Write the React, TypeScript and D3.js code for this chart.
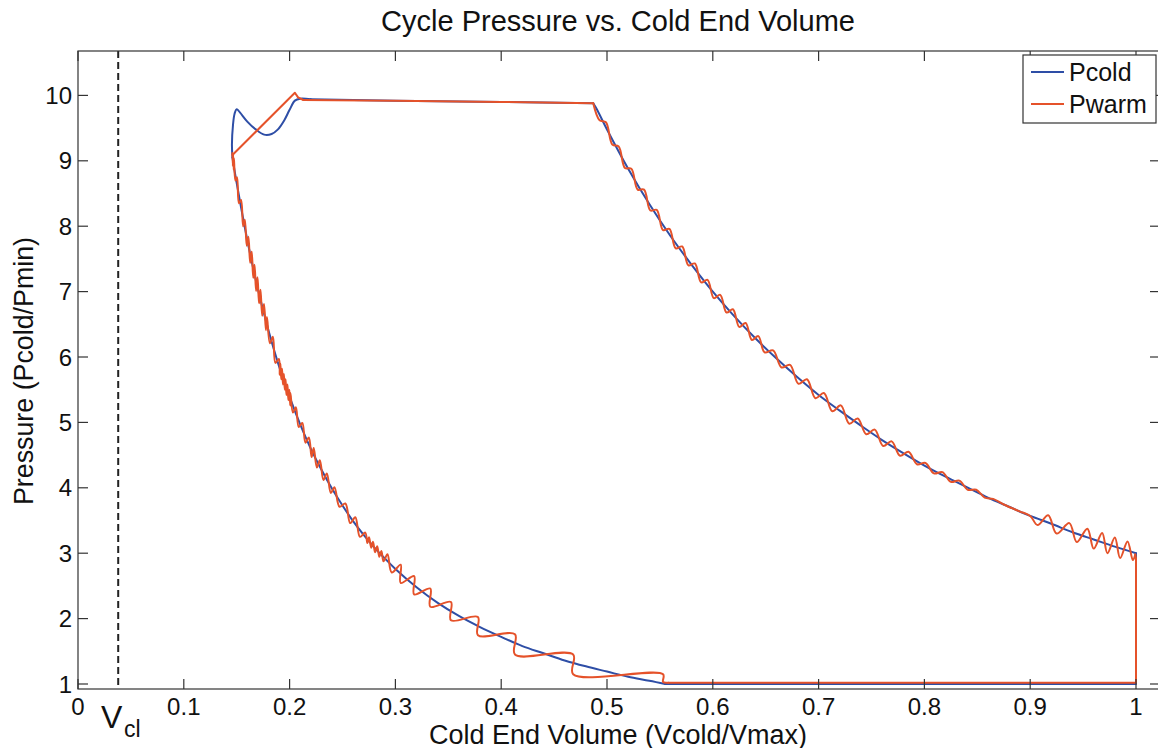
import React from 'react';
import * as d3 from 'd3';

// ---------- data ----------
const xTickValues = [0, 0.1, 0.2, 0.3, 0.4, 0.5, 0.6, 0.7, 0.8, 0.9, 1];
const xTickLabels = ['0', '0.1', '0.2', '0.3', '0.4', '0.5', '0.6', '0.7', '0.8', '0.9', '1'];
const yTickValues = [1, 2, 3, 4, 5, 6, 7, 8, 9, 10];
const yTickLabels = ['1', '2', '3', '4', '5', '6', '7', '8', '9', '10'];
const vClearance = 0.038;
const seriesNames = ['Pcold', 'Pwarm'];

// Pcold (blue)
const coldTop: [number, number][] = [
  [0.146, 9.05], [0.1455, 9.25], [0.1465, 9.55], [0.148, 9.72], [0.15, 9.79], [0.153, 9.74],
  [0.16, 9.6], [0.168, 9.48], [0.176, 9.4], [0.183, 9.41], [0.189, 9.48], [0.195, 9.62],
  [0.2, 9.78], [0.205, 9.92], [0.21, 9.95], [0.22, 9.94],
];
const coldPlateau: [number, number][] = [[0.22, 9.94], [0.3, 9.92], [0.4, 9.9], [0.487, 9.88]];
const coldExpansion: [number, number][] = [
  [0.487, 9.88], [0.49, 9.8], [0.5, 9.48], [0.52, 8.88], [0.54, 8.34], [0.56, 7.85], [0.58, 7.41],
  [0.6, 7.0], [0.62, 6.63], [0.64, 6.29], [0.66, 5.98], [0.68, 5.69], [0.7, 5.42], [0.72, 5.18],
  [0.74, 4.95], [0.76, 4.73], [0.78, 4.53], [0.8, 4.34], [0.82, 4.17], [0.84, 4.01], [0.86, 3.85],
  [0.88, 3.71], [0.9, 3.57], [0.92, 3.45], [0.94, 3.32], [0.96, 3.21], [0.98, 3.1], [1.0, 3.0],
];
const coldDrop: [number, number][] = [[1.0, 3.0], [1.0, 1.0], [0.555, 1.0]];
const coldCompression: [number, number][] = [
  [0.555, 1.0], [0.54, 1.05], [0.52, 1.11], [0.5, 1.19], [0.48, 1.27], [0.46, 1.36], [0.44, 1.47],
  [0.42, 1.58], [0.4, 1.72], [0.38, 1.87], [0.36, 2.04], [0.34, 2.24], [0.32, 2.48], [0.3, 2.76],
  [0.29, 2.92], [0.28, 3.09], [0.27, 3.28], [0.26, 3.49], [0.25, 3.73], [0.24, 3.99], [0.23, 4.28],
  [0.22, 4.6], [0.21, 4.97], [0.2, 5.39], [0.19, 5.86], [0.18, 6.41], [0.17, 7.04], [0.16, 7.79],
  [0.15, 8.66], [0.146, 9.05],
];

// Pwarm (red)
const warmRise: [number, number][] = [[0.146, 9.09], [0.205, 10.04], [0.208, 9.97], [0.213, 9.93]];
const warmPlateau: [number, number][] = [[0.213, 9.93], [0.3, 9.92], [0.4, 9.9], [0.487, 9.88]];
const warmExpansion: [number, number][] = [
  [0.487, 9.88], [0.493, 9.62], [0.499, 9.59], [0.505, 9.25], [0.511, 9.22], [0.517, 8.89],
  [0.523, 8.88], [0.529, 8.56], [0.535, 8.56], [0.541, 8.24], [0.547, 8.25], [0.553, 7.94],
  [0.559, 7.96], [0.565, 7.66], [0.571, 7.69], [0.577, 7.4], [0.583, 7.43], [0.589, 7.14],
  [0.595, 7.18], [0.601, 6.9], [0.607, 6.95], [0.613, 6.68], [0.619, 6.73], [0.625, 6.46],
  [0.631, 6.52], [0.637, 6.26], [0.643, 6.32], [0.649, 6.07], [0.657, 6.1], [0.665, 5.84],
  [0.673, 5.88], [0.681, 5.59], [0.689, 5.66], [0.697, 5.37], [0.705, 5.45], [0.713, 5.17],
  [0.721, 5.26], [0.729, 4.98], [0.737, 5.06], [0.745, 4.82], [0.753, 4.89], [0.761, 4.64],
  [0.769, 4.71], [0.777, 4.49], [0.785, 4.55], [0.793, 4.36], [0.801, 4.38], [0.809, 4.22],
  [0.817, 4.24], [0.825, 4.09], [0.833, 4.11], [0.841, 3.97], [0.849, 3.97], [0.857, 3.85],
  [0.865, 3.83], [0.875, 3.745], [0.89, 3.64], [0.9, 3.57], [0.907, 3.43], [0.917, 3.58],
  [0.925, 3.3], [0.937, 3.46], [0.944, 3.17], [0.954, 3.375], [0.96, 3.07], [0.968, 3.31],
  [0.973, 3.0], [0.98, 3.24], [0.985, 2.925], [0.992, 3.18], [0.997, 2.895], [0.9993, 2.98],
];
const warmDrop: [number, number][] = [[0.9993, 2.98], [1.0, 2.92], [1.0, 1.02], [0.558, 1.02]];
// compression, lower part: staircase [volume of each pressure jump, pressure before, pressure after]
const warmSteps: [number, number, number][] = [
  [0.553, 1.03, 1.15], [0.468, 1.15, 1.45], [0.413, 1.45, 1.76], [0.378, 1.745, 2.025],
  [0.3525, 1.975, 2.255], [0.333, 2.18, 2.46], [0.3177, 2.37, 2.65], [0.305, 2.545, 2.825],
];
// compression, steep part: oscillation troughs and crests
const warmWiggles: [number, number][] = [
  [0.2965, 2.705], [0.2925, 2.985],
  [0.2888, 2.875], [0.2868, 3.035], [0.2848, 2.945], [0.2828, 3.105], [0.2808, 3.015],
  [0.2788, 3.175], [0.2771, 3.085], [0.2751, 3.245], [0.2735, 3.155], [0.2715, 3.315],
  [0.2665, 3.25], [0.2621, 3.55], [0.2573, 3.46], [0.2527, 3.76], [0.2472, 3.71], [0.2424, 4.01],
  [0.239, 3.92], [0.2352, 4.22], [0.232, 4.12], [0.2286, 4.42], [0.2258, 4.31], [0.2228, 4.61],
  [0.2208, 4.47], [0.2182, 4.77], [0.215, 4.69], [0.212, 4.99], [0.2087, 4.93], [0.2059, 5.23],
  [0.2032, 5.15], [0.2008, 5.45],
  [0.2006, 5.26], [0.1998, 5.5], [0.1988, 5.34], [0.198, 5.58], [0.197, 5.42], [0.1962, 5.66],
  [0.1954, 5.5], [0.1946, 5.74], [0.1937, 5.58], [0.1929, 5.82], [0.1921, 5.66], [0.1913, 5.9],
  [0.1907, 5.73], [0.1899, 5.97],
  [0.1866, 5.91], [0.1842, 6.31], [0.1814, 6.21], [0.1786, 6.61], [0.1776, 6.41], [0.1758, 6.81],
  [0.1741, 6.63], [0.1725, 7.03], [0.1711, 6.82], [0.1697, 7.22], [0.1683, 7.01], [0.1669, 7.41],
  [0.1656, 7.21], [0.1642, 7.61], [0.1627, 7.44], [0.1611, 7.84], [0.1595, 7.7], [0.1577, 8.1],
  [0.1561, 8.0], [0.1541, 8.4], [0.1521, 8.35], [0.1503, 8.75], [0.1488, 8.7], [0.1474, 9.04],
  [0.1472, 8.86], [0.1466, 9.1], [0.1464, 8.92], [0.146, 9.12], [0.146, 9.09],
];
const warmStepStart: [number, number] = [0.558, 1.02];

const blueColor = '#2e4ea6';
const redColor = '#e5522a';
const axisColor = '#333333';
const font = '"Liberation Sans", Arial, Helvetica, sans-serif';

function buildCompression(): [number, number][] {
  const out: [number, number][] = [warmStepStart];
  for (const [v, lo, hi] of warmSteps) {
    out.push([v, lo]);
    out.push([v, hi]);
  }
  for (const p of warmWiggles) out.push(p);
  return out;
}

export default function App() {
  const W = 1158;
  const H = 748;
  const plotLeft = 78;
  const plotRight = 1160;
  const plotTop = 51;
  const plotBottom = 689;

  const x = d3.scaleLinear().domain([0, 1]).range([78, 1136]);
  const y = d3.scaleLinear().domain([0.9235, 10.679]).range([plotBottom, plotTop]);

  const smooth = d3
    .line<[number, number]>()
    .x((d) => x(d[0]))
    .y((d) => y(d[1]))
    .curve(d3.curveCatmullRom.alpha(0.5));
  const straight = d3
    .line<[number, number]>()
    .x((d) => x(d[0]))
    .y((d) => y(d[1]));

  const warmCompression = buildCompression();

  const bluePaths = [
    smooth(coldTop),
    straight(coldPlateau),
    smooth(coldExpansion),
    straight(coldDrop),
    smooth(coldCompression),
  ];
  const redPaths = [
    straight(warmRise),
    straight(warmPlateau),
    smooth(warmExpansion),
    straight(warmDrop),
    smooth(warmCompression),
  ];

  const tickLen = 10;

  return (
    <svg
      width={W}
      height={H}
      style={{ position: 'absolute', left: 0, top: 0, background: '#ffffff' }}
      fontFamily={font}
    >
      <rect x={0} y={0} width={W} height={H} fill="#ffffff" />
      <text x={618} y={31} textAnchor="middle" fontSize={29} fill="#111">
        Cycle Pressure vs. Cold End Volume
      </text>

      {/* series */}
      <g fill="none" strokeLinejoin="round" strokeLinecap="round">
        {bluePaths.map((p, i) => (
          <path key={'b' + i} d={p || ''} stroke={blueColor} strokeWidth={2} />
        ))}
        {redPaths.map((p, i) => (
          <path key={'r' + i} d={p || ''} stroke={redColor} strokeWidth={2} />
        ))}
      </g>

      {/* clearance volume line */}
      <line
        x1={x(vClearance)}
        x2={x(vClearance)}
        y1={plotTop}
        y2={plotBottom}
        stroke="#222"
        strokeWidth={2}
        strokeDasharray="7,4"
      />

      {/* axes box */}
      <rect
        x={plotLeft}
        y={plotTop}
        width={plotRight - plotLeft}
        height={plotBottom - plotTop}
        fill="none"
        stroke={axisColor}
        strokeWidth={1.2}
      />
      {xTickValues.map((v, i) => (
        <g key={'xt' + i}>
          <line x1={x(v)} x2={x(v)} y1={plotBottom} y2={plotBottom - tickLen} stroke={axisColor} strokeWidth={1.2} />
          <line x1={x(v)} x2={x(v)} y1={plotTop} y2={plotTop + tickLen} stroke={axisColor} strokeWidth={1.2} />
          <text x={x(v)} y={714.5} textAnchor="middle" fontSize={24} fill="#111">
            {xTickLabels[i]}
          </text>
        </g>
      ))}
      {yTickValues.map((v, i) => (
        <g key={'yt' + i}>
          <line x1={plotLeft} x2={plotLeft + tickLen} y1={y(v)} y2={y(v)} stroke={axisColor} strokeWidth={1.2} />
          <line x1={plotRight} x2={plotRight - tickLen} y1={y(v)} y2={y(v)} stroke={axisColor} strokeWidth={1.2} />
          <text x={72} y={y(v)} dy="0.36em" textAnchor="end" fontSize={24} fill="#111">
            {yTickLabels[i]}
          </text>
        </g>
      ))}

      {/* V_cl label */}
      <text x={101} y={728} fontSize={32} fill="#111">
        V
      </text>
      <text x={124} y={737} fontSize={23} fill="#111">
        cl
      </text>

      {/* axis labels */}
      <text x={618} y={743.5} textAnchor="middle" fontSize={27} fill="#111">
        Cold End Volume (Vcold/Vmax)
      </text>
      <text
        transform={`translate(33,${(plotTop + plotBottom) / 2 + 1}) rotate(-90)`}
        textAnchor="middle"
        fontSize={26.8}
        fill="#111"
      >
        Pressure (Pcold/Pmin)
      </text>

      {/* legend */}
      <g>
        <rect x={1023} y={55} width={133} height={68} fill="#ffffff" stroke={axisColor} strokeWidth={1.2} />
        <line x1={1031} x2={1064} y1={72} y2={72} stroke={blueColor} strokeWidth={2} />
        <text x={1069} y={72} dy="0.36em" fontSize={25} fill="#111">
          {seriesNames[0]}
        </text>
        <line x1={1031} x2={1064} y1={104} y2={104} stroke={redColor} strokeWidth={2} />
        <text x={1069} y={104} dy="0.36em" fontSize={25} fill="#111">
          {seriesNames[1]}
        </text>
      </g>
    </svg>
  );
}
